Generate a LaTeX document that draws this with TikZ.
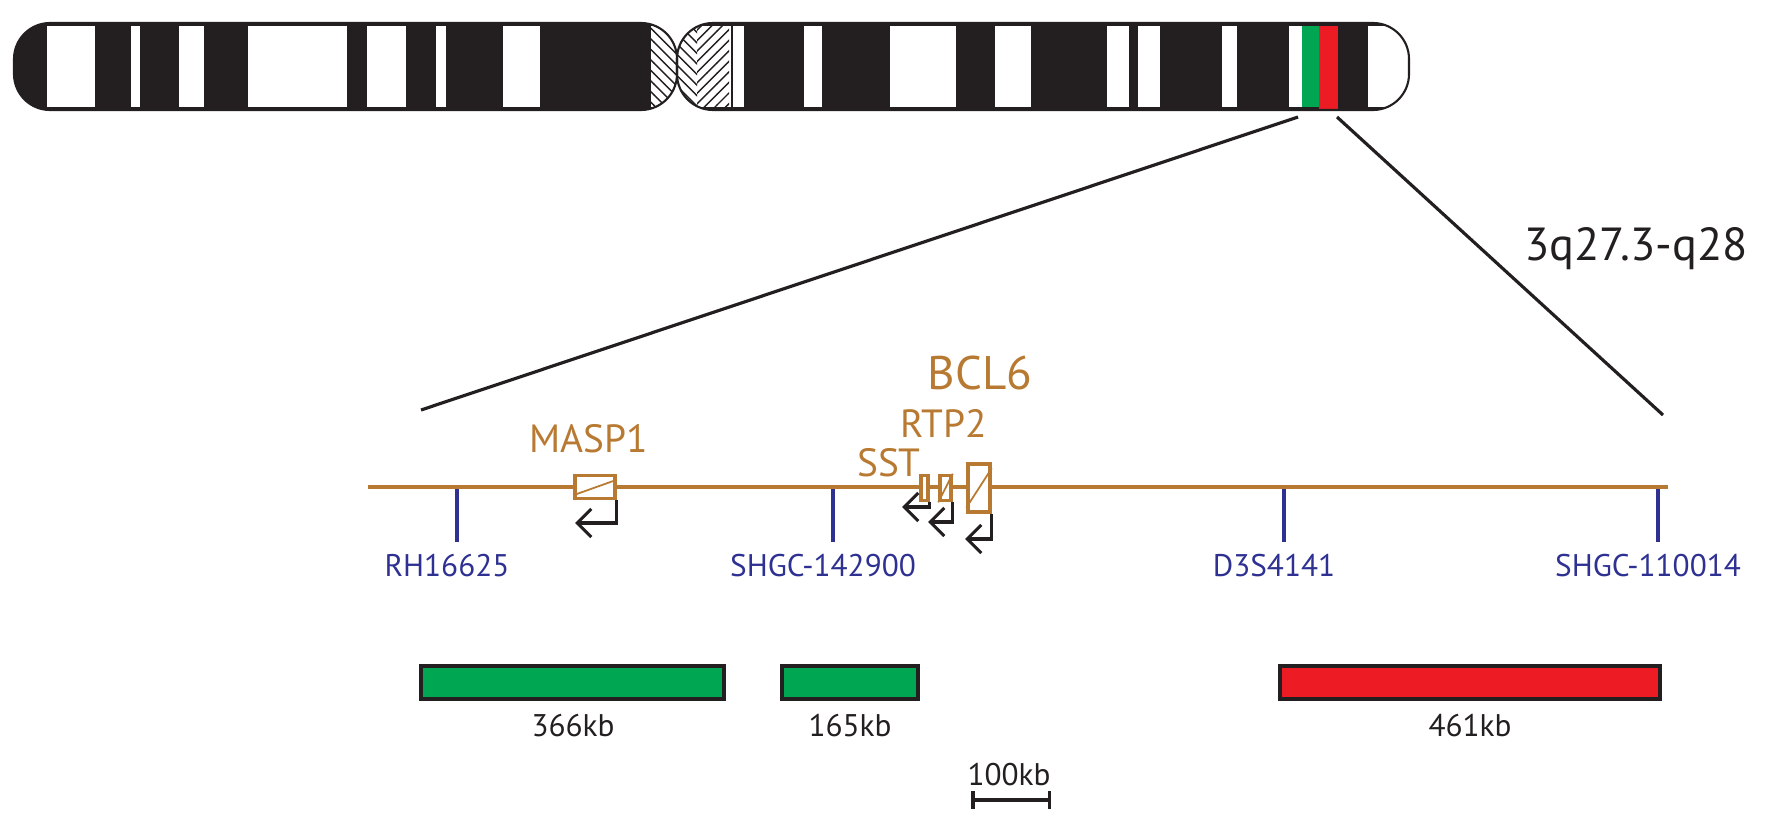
\documentclass[tikz,border=0pt]{standalone}
\usepackage{fontspec}
\setmainfont{PT Sans}
\usetikzlibrary{patterns,arrows.meta}
\definecolor{chromo}{HTML}{231F20}
\definecolor{gene}{HTML}{B87A32}
\definecolor{marker}{HTML}{2E3192}
\definecolor{probeG}{HTML}{00A651}
\definecolor{probeR}{HTML}{ED1C24}

\begin{document}
\begin{tikzpicture}[x=0.1mm, y=-0.1mm,
    arm/.style={rounded corners=3.6mm},
    genebox/.style={draw=gene, line width=1pt, fill=white},
    tss/.style={draw=chromo, line width=0.9pt, -{Straight Barb[length=4pt, width=8pt]}},
    tick/.style={draw=marker, line width=0.9pt},
    mlabel/.style={text=marker, font=\fontsize{8.9}{10}\selectfont, anchor=base},
    glabel/.style={text=gene, font=\fontsize{11.2}{12}\selectfont, anchor=base},
    probe/.style={draw=chromo, line width=1.2pt},
    klabel/.style={text=chromo, font=\fontsize{8.9}{10}\selectfont, anchor=base}]
    \useasboundingbox (0,0) rectangle (1777,822);

    % chromosome arms
    \begin{scope}
        \clip[arm] (14,23) rectangle (677,110);
        \fill[chromo] (14,23) rectangle (677,110);
        \foreach \a/\b in {47/95, 131/140, 179/204, 248/347, 367/406, 436/446, 503/540}
            \fill[white] (\a,26) rectangle (\b,107);
        \fill[white] (651,26) rectangle (677,107);
        \fill[pattern=north west lines, pattern color=chromo] (651,26) rectangle (677,107);
    \end{scope}
    \begin{scope}
        \clip[arm] (677,23) rectangle (1409,110);
        \fill[chromo] (677,23) rectangle (1409,110);
        \fill[white] (677,26) rectangle (731,107);
        \fill[pattern=north west lines, pattern color=chromo] (677,26) rectangle (697,107);
        \fill[pattern=north east lines, pattern color=chromo] (697,26) rectangle (729,107);
        \foreach \a/\b in {733/744, 804/822, 890/956, 995/1031, 1107/1129, 1138/1160, 1222/1237, 1289/1302, 1368/1409}
            \fill[white] (\a,26) rectangle (\b,107);
        \fill[probeG] (1302,26) rectangle (1319,107);
        \fill[probeR] (1319,26) rectangle (1338,110);
    \end{scope}
    \draw[chromo, line width=0.6pt, arm] (14,23) rectangle (677,110);
    \draw[chromo, line width=0.6pt, arm] (677,23) rectangle (1409,110);

    % zoom lines
    \coordinate (zl1) at (1298,117);
    \coordinate (zl2) at (421,410);
    \coordinate (zr1) at (1337,117);
    \coordinate (zr2) at (1663,415);
    \draw[chromo, line width=0.9pt] (zl1) -- (zl2);
    \draw[chromo, line width=0.9pt] (zr1) -- (zr2);
    \node[text=chromo, font=\fontsize{13.2}{15}\selectfont, anchor=base] (band) at (1636,260) {3q27.3-q28};

    % genomic line and markers
    \coordinate (gs) at (368,487);
    \coordinate (ge) at (1668,487);
    \draw[gene, line width=1pt] (gs) -- (ge);
    \foreach \x/\name/\txt in {457/rh/RH16625, 833/shgcA/SHGC-142900, 1284/dsm/D3S4141, 1658/shgcB/SHGC-110014} {
        \coordinate (\name t) at (\x,489);
        \coordinate (\name b) at (\x,542);
        \draw[tick] (\name t) -- (\name b);
        \node[mlabel] (\name) at (\x-10,576) {\txt};
    }

    % genes
    \node[genebox, minimum width=40*0.1mm, minimum height=23*0.1mm, inner sep=0] (masp) at (595,487) {};
    \draw[gene, line width=0.5pt] (masp.south west) ++(0,-5) -- ([yshift=-6*0.1mm]masp.north east);
    \node[genebox, minimum width=7*0.1mm, minimum height=25*0.1mm, inner sep=0] (sst) at (924.5,488) {};
    \node[genebox, minimum width=11*0.1mm, minimum height=25*0.1mm, inner sep=0] (rtp) at (945.5,488) {};
    \draw[gene, line width=0.5pt] (rtp.south west) -- (rtp.north east);
    \node[genebox, minimum width=22*0.1mm, minimum height=48*0.1mm, inner sep=0] (bcl) at (979,488) {};
    \draw[gene, line width=0.5pt] ([yshift=6*0.1mm]bcl.south west) -- ([yshift=-6*0.1mm]bcl.north east);

    \coordinate (maspa) at (575,523);
    \coordinate (ssta) at (902,507);
    \coordinate (rtpa) at (928,522);
    \coordinate (bcla) at (965,539);
    \draw[tss] (masp.south east) |- (maspa);
    \draw[tss] (sst.south east) |- (ssta);
    \draw[tss] (rtp.south east) |- (rtpa);
    \draw[tss] (bcl.south east) |- (bcla);

    \node[glabel] (masplab) at (589,452) {MASP1};
    \node[glabel] (sstlab) at (889,476) {SST};
    \node[glabel] (rtplab) at (944,437) {RTP2};
    \node[glabel, font=\fontsize{13.4}{15}\selectfont] (bcllab) at (980,389) {BCL6};

    % probes
    \draw[probe, fill=probeG] (421,666) rectangle (724,699);
    \draw[probe, fill=probeG] (782,666) rectangle (918,699);
    \draw[probe, fill=probeR] (1280,666) rectangle (1660,699);
    \node[klabel] (k366) at (573,736) {366kb};
    \node[klabel] (k165) at (850,736) {165kb};
    \node[klabel] (k461) at (1470,736) {461kb};

    % scale bar
    \coordinate (sa) at (971,800);
    \coordinate (sb) at (1051,800);
    \draw[chromo, line width=1pt, {Bar[width=5pt]}-{Bar[width=5pt]}] (sa) -- (sb);
    \node[klabel] (k100) at (1009,785) {100kb};
\end{tikzpicture}
\end{document}
